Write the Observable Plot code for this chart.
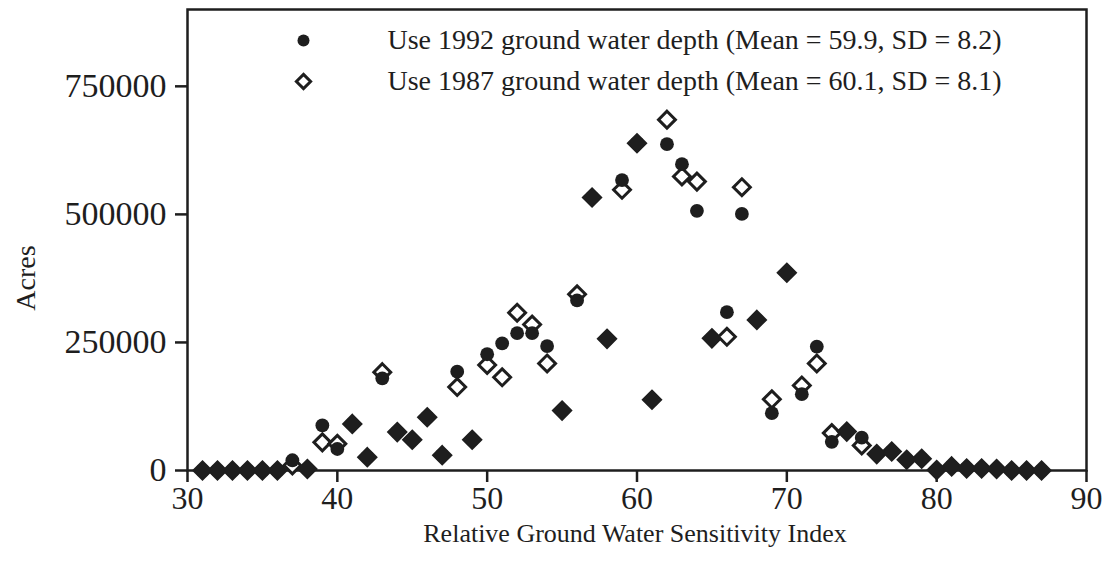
<!DOCTYPE html>
<html>
<head>
<meta charset="utf-8">
<script src="https://cdn.jsdelivr.net/npm/d3@7"></script>
<script src="https://cdn.jsdelivr.net/npm/@observablehq/plot@0.6"></script>
<style>
  html, body { margin: 0; padding: 0; background: #fff; }
  #chart svg { display: block; background: #fff; }
</style>
</head>
<body>
<div id="chart"></div>
<script>
// Relative Ground Water Sensitivity Index values
const indexValues = [31,32,33,34,35,36,37,38,39,40,41,42,43,44,45,46,47,48,49,50,51,52,53,54,55,56,57,58,59,60,61,62,63,64,65,66,67,68,69,70,71,72,73,74,75,76,77,78,79,80,81,82,83,84,85,86,87];
// Acres, using 1992 ground water depth
const acres1992 = [0,0,0,0,0,0,20000,3000,88000,42000,91000,26000,180000,75000,60000,104000,30000,193000,60000,227000,248000,268000,268000,243000,117000,332000,533000,257000,567000,639000,138000,637000,598000,507000,258000,309000,501000,294000,112000,386000,149000,242000,56000,76000,64000,32000,37000,21000,23000,1000,8000,4000,4000,3000,0,0,0];
// Acres, using 1987 ground water depth
const acres1987 = [0,0,0,0,0,0,10000,3000,55000,52000,91000,26000,192000,75000,60000,104000,30000,163000,60000,206000,182000,308000,285000,209000,117000,344000,533000,257000,548000,639000,138000,685000,574000,564000,258000,261000,553000,294000,139000,386000,166000,209000,73000,76000,49000,32000,37000,21000,23000,1000,8000,4000,4000,3000,0,0,0];

const xTicks = [30,40,50,60,70,80,90];
const yTicks = [0,250000,500000,750000];
const legend1992 = "Use 1992 ground water depth (Mean = 59.9, SD = 8.2)";
const legend1987 = "Use 1987 ground water depth (Mean = 60.1, SD = 8.1)";
const xTitle = "Relative Ground Water Sensitivity Index";
const yTitle = "Acres";

const rows = indexValues.map((v, i) => ({index: v, a1992: acres1992[i], a1987: acres1987[i]}));

const ink = "#1e1e1e";
const font = "'Liberation Serif', 'Times New Roman', serif";

const chart = Plot.plot({
  width: 1107,
  height: 569,
  marginLeft: 187,
  marginRight: 21,
  marginTop: 9,
  marginBottom: 99,
  style: {fontFamily: font, fontSize: "34px", color: ink, background: "#fff"},
  x: {domain: [30, 90], label: null},
  y: {domain: [0, 900000], label: null},
  marks: [
    Plot.frame({stroke: ink, strokeWidth: 2.5}),
    Plot.axisX({ticks: xTicks, tickSize: 12, tickPadding: 4, strokeWidth: 2.5, fontSize: 32, fontFamily: font, label: null}),
    Plot.axisY({ticks: yTicks, tickSize: 12, tickPadding: 9, strokeWidth: 2.5, fontSize: 34, fontFamily: font, tickFormat: d3.format("d"), label: null}),
    Plot.text([xTitle], {frameAnchor: "bottom", dx: -2, dy: 63, lineAnchor: "middle", textAnchor: "middle", fontSize: 26, fontFamily: font, fill: ink}),
    Plot.text([yTitle], {frameAnchor: "left", rotate: -90, dx: -161, dy: 38, lineAnchor: "middle", textAnchor: "middle", fontSize: 28, fontFamily: font, fill: ink}),
    Plot.dot(rows, {x: "index", y: "a1987", symbol: "diamond2", r: 7.6, stroke: ink, strokeWidth: 3, fill: "white"}),
    Plot.dot(rows, {x: "index", y: "a1992", symbol: "circle", r: 6.9, fill: ink, stroke: "none"}),
    Plot.dot([legend1992], {frameAnchor: "top-left", dx: 116, dy: 31, symbol: "circle", r: 6, fill: ink}),
    Plot.dot([legend1987], {frameAnchor: "top-left", dx: 116, dy: 72, symbol: "diamond2", r: 6.4, stroke: ink, strokeWidth: 3, fill: "white"}),
    Plot.text([legend1992], {frameAnchor: "top-left", dx: 200, dy: 31, textAnchor: "start", lineAnchor: "middle", fontSize: 28, fontFamily: font, fill: ink}),
    Plot.text([legend1987], {frameAnchor: "top-left", dx: 200, dy: 72, textAnchor: "start", lineAnchor: "middle", fontSize: 28, fontFamily: font, fill: ink})
  ]
});
document.getElementById("chart").appendChild(chart);
</script>
</body>
</html>
